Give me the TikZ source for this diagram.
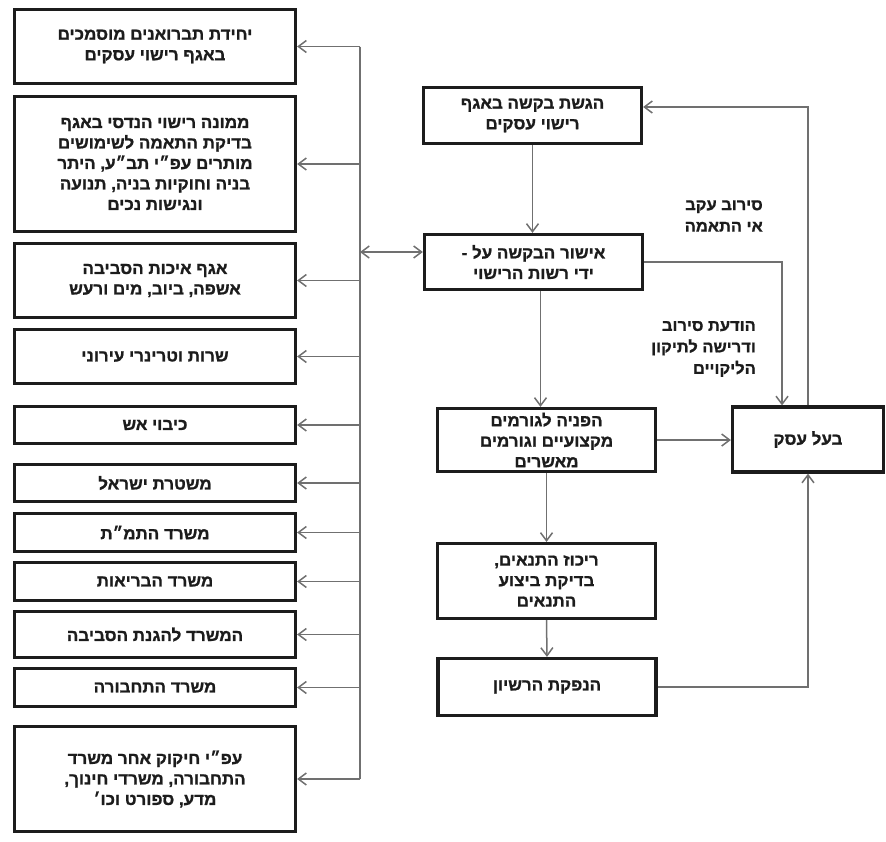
\documentclass[tikz,border=0pt]{standalone}
\usepackage{fontspec}
\newfontfamily\hebfont[Script=Hebrew,FakeStretch=1.03,BoldFont={Liberation Sans Bold},BoldFeatures={FakeBold=1.2}]{Liberation Sans}
\TeXXeTstate=1
\usetikzlibrary{arrows.meta}
\newcommand{\heb}[1]{\beginR #1\endR}
\definecolor{linegray}{RGB}{112,112,112}
\definecolor{inkblack}{RGB}{28,28,28}

\begin{document}
\begin{tikzpicture}[x=1pt,y=-1pt]
    \tikzstyle{boxes}=[draw=inkblack,line width=3.2pt,text=inkblack,align=center,inner sep=0pt,font=\hebfont\bfseries\fontsize{16.5}{20.5}\selectfont]
    \tikzstyle{lboxes}=[boxes,minimum width=281pt]
    \tikzstyle{rboxes}=[boxes,minimum width=218pt]
    \tikzstyle{notes}=[align=right,inner sep=0pt,text=inkblack,font=\hebfont\bfseries\fontsize{16}{21.5}\selectfont]
    \tikzstyle{lines}=[draw=linegray,line width=1.5pt]
    \tikzstyle{vectors}=[lines,-{Straight Barb[length=8pt,width=12pt]}]
    \tikzstyle{dvectors}=[lines,{Straight Barb[length=8pt,width=12pt]}-{Straight Barb[length=8pt,width=12pt]}]
    \useasboundingbox (0,0) rectangle (886,841);

    % left column: the approving bodies
    \node[lboxes,minimum height=74pt] (unit) at (155,46.5) {\heb{יחידת תברואנים מוסמכים}\\\heb{באגף רישוי עסקים}};
    \node[lboxes,minimum height=135pt] (eng) at (155,164) {\heb{ממונה רישוי הנדסי באגף}\\\heb{בדיקת התאמה לשימושים}\\\heb{מותרים עפ״י תב״ע, היתר}\\\heb{בניה וחוקיות בניה, תנועה}\\\heb{ונגישות נכים}};
    \node[lboxes,minimum height=74pt] (env) at (155,280.5) {\heb{אגף איכות הסביבה}\\\heb{אשפה, ביוב, מים ורעש}};
    \node[lboxes,minimum height=54pt] (vet) at (155,356.5) {\heb{שרות וטרינרי עירוני}};
    \node[lboxes,minimum height=37pt] (fire) at (155,425) {\heb{כיבוי אש}};
    \node[lboxes,minimum height=37pt] (police) at (155,483) {\heb{משטרת ישראל}};
    \node[lboxes,minimum height=38pt] (tamat) at (155,532.5) {\heb{משרד התמ״ת}};
    \node[lboxes,minimum height=38pt] (health) at (155,581.5) {\heb{משרד הבריאות}};
    \node[lboxes,minimum height=46pt] (envmin) at (155,634.5) {\heb{המשרד להגנת הסביבה}};
    \node[lboxes,minimum height=38pt] (transport) at (155,687.5) {\heb{משרד התחבורה}};
    \node[lboxes,minimum height=105pt] (other) at (155,779) {\heb{עפ״י חיקוק אחר משרד}\\\heb{התחבורה, משרדי חינוך,}\\\heb{מדע, ספורט וכו׳}};

    % right side: the licensing flow
    \node[rboxes,minimum height=56pt] (request) at (532.5,115.5) {\heb{הגשת בקשה באגף}\\\heb{רישוי עסקים}};
    \node[rboxes,minimum height=55pt] (approve) at (533.5,262) {\heb{אישור הבקשה על -}\\\heb{ידי רשות הרישוי}};
    \node[rboxes,minimum height=63pt] (refer) at (546.5,440) {\heb{הפניה לגורמים}\\\heb{מקצועיים וגורמים}\\\heb{מאשרים}};
    \node[rboxes,minimum height=75pt] (conds) at (546.5,581) {\heb{ריכוז התנאים,}\\\heb{בדיקת ביצוע}\\\heb{התנאים}};
    \node[rboxes,minimum height=57pt] (issue) at (547,687) {\heb{הנפקת הרשיון}};
    \node[boxes,minimum width=151pt,minimum height=65pt] (owner) at (808,439.5) {\heb{בעל עסק}};

    \node[notes,anchor=east] (refusal) at (763,216) {\heb{סירוב עקב}\\\heb{אי התאמה}};
    \node[notes,anchor=east] (notice) at (756,349) {\heb{הודעת סירוב}\\\heb{ודרישה לתיקון}\\\heb{הליקויים}};

    % the distribution bus
    \coordinate (bus) at (360,0);
    \coordinate (dbl) at ([yshift=10pt]approve.west);
    \draw[lines] (bus |- unit.east) -- (bus |- other.east);
    \foreach \b in {unit,eng,env,vet,fire,police,tamat,health,envmin,transport,other}
        \draw[vectors] (bus |- \b.east) -- (\b.east);
    \draw[dvectors] (bus |- dbl) -- (dbl);

    \draw[vectors] (request.south) -- (request.south |- approve.north);
    \draw[vectors] ([xshift=7pt]approve.south) -- ([xshift=7pt]approve.south |- refer.north);
    \draw[vectors] (refer.south) -- (conds.north);
    \draw[vectors] (conds.south) -- (issue.north);
    \draw[vectors] (refer.east) -- (refer.east -| owner.west);
    \draw[vectors] (approve.east) -| ([xshift=-26pt]owner.north);
    \draw[vectors] (owner.north) |- ([yshift=8.5pt]request.east);
    \draw[vectors] (issue.east) -| (owner.south);
\end{tikzpicture}
\end{document}
